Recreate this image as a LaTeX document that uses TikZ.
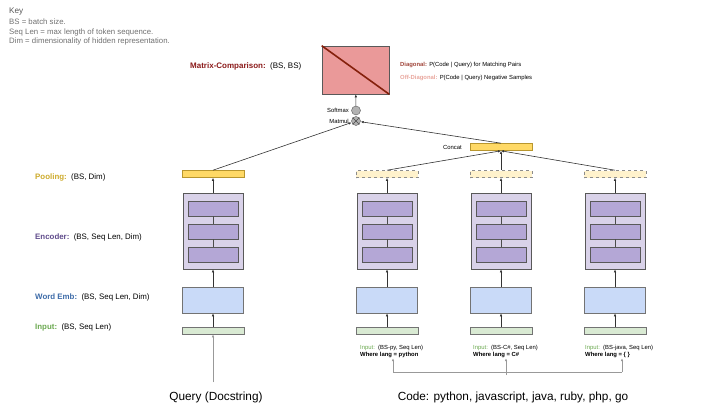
\documentclass[tikz,border=0pt]{standalone}
\usepackage{fontspec}
\setmainfont{Liberation Sans}
\usetikzlibrary{positioning,arrows.meta}

\definecolor{poolfill}{HTML}{FFD966}
\definecolor{poolline}{HTML}{B8962E}
\definecolor{dashfill}{HTML}{FFF2CC}
\definecolor{encfill}{HTML}{D9D2E9}
\definecolor{layfill}{HTML}{B4A7D6}
\definecolor{embfill}{HTML}{C9DAF8}
\definecolor{infill}{HTML}{D9EAD3}
\definecolor{matfill}{HTML}{EA9999}
\definecolor{matline}{HTML}{85200C}
\definecolor{keygray}{HTML}{707070}
\definecolor{txtpool}{HTML}{CDAA2A}
\definecolor{txtenc}{HTML}{5F4B8B}
\definecolor{txtemb}{HTML}{3D6BA8}
\definecolor{txtin}{HTML}{6AA84F}
\definecolor{txtmat}{HTML}{8B1A1A}
\definecolor{txtdiag}{HTML}{A0453A}
\definecolor{txtoff}{HTML}{E8A59C}

\tikzset{
  box/.style={draw=black!65, inner sep=0pt, line width=0.6pt},
  poolbar/.style={box, draw=poolline, fill=poolfill, minimum width=62pt, minimum height=7pt},
  dashpool/.style={box, draw=black!45, dashed, fill=dashfill, minimum width=62pt, minimum height=7pt},
  encbox/.style={box, fill=encfill, minimum width=60pt, minimum height=76pt},
  laybox/.style={box, fill=layfill, minimum width=50pt, minimum height=15pt},
  embbox/.style={box, draw=black!55, fill=embfill, minimum width=61pt, minimum height=26pt},
  inbar/.style={box, draw=black!55, fill=infill, minimum width=62pt, minimum height=7pt},
  opnode/.style={circle, draw=black!65, fill=black!30, minimum size=9pt, inner sep=0pt},
  flow/.style={-{Latex[length=3pt,width=2.5pt]}, black!80, line width=0.6pt},
  feed/.style={-{Latex[length=3pt,width=2.5pt]}, black!40, line width=0.6pt},
  link/.style={black!70, line width=0.6pt},
  lbl/.style={anchor=west, inner sep=0pt, font=\fontsize{7.9}{9}\selectfont},
  keytxt/.style={anchor=west, inner sep=0pt, text=keygray, font=\fontsize{7.8}{9}\selectfont},
  tiny/.style={inner sep=0pt, font=\fontsize{5.9}{7.2}\selectfont},
  big/.style={inner sep=0pt, font=\fontsize{11.8}{13}\selectfont}
}

\begin{document}
\begin{tikzpicture}[x=1pt,y=-1pt]
\useasboundingbox (0,0) rectangle (720,405);

% key
\node[keytxt, text=black!65, font=\fontsize{8.2}{9}\selectfont] (key) at (9,12) {Key};
\node[keytxt] (key1) at (9,22) {BS = batch size.};
\node[keytxt] (key2) at (9,32) {Seq Len = max length of token sequence.};
\node[keytxt] (key3) at (9,41) {Dim = dimensionality of hidden representation.};

% row labels
\node[lbl] (lpool) at (35,177) {\textcolor{txtpool}{\textbf{Pooling:}}\ \ (BS, Dim)};
\node[lbl] (lenc) at (35,237) {\textcolor{txtenc}{\textbf{Encoder:}}\ \ (BS, Seq Len, Dim)};
\node[lbl] (lemb) at (35,297) {\textcolor{txtemb}{\textbf{Word Emb:}}\ \ (BS, Seq Len, Dim)};
\node[lbl] (lin) at (35,327) {\textcolor{txtin}{\textbf{Input:}}\ \ (BS, Seq Len)};

% comparison matrix
\node[box, fill=matfill, minimum width=67pt, minimum height=48pt] (cmp) at (355.5,70) {};
\draw[matline, line width=1.6pt] (cmp.north west) -- (cmp.south east);
\node[lbl, font=\fontsize{8}{10}\selectfont] (lcmp) at (190,66)
    {\textcolor{txtmat}{\textbf{Matrix-Comparison:}}\ \ (BS, BS)};
\node[tiny, anchor=west] (ldiag) at (400,65)
    {\textcolor{txtdiag}{\textbf{Diagonal:}} P(Code | Query) for Matching Pairs};
\node[tiny, anchor=west] (loff) at (400,78)
    {\textcolor{txtoff}{\textbf{Off-Diagonal:}} P(Code | Query) Negative Samples};

% softmax and matmul
\node[opnode] (softmax) at (356,110.5) {};
\node[opnode] (matmul) at (356,121) {};
\draw[link] (matmul.north west) -- (matmul.south east);
\draw[link] (matmul.north east) -- (matmul.south west);
\node[tiny, anchor=east] (lsoft) at (349,110) {Softmax};
\node[tiny, anchor=east] (lmat) at (349,121) {Matmul};
\draw[flow] (softmax) -- (cmp);

% query side
\node[poolbar] (qpool) at (213,174) {};
\node[encbox] (qenc) at (213,231) {};
\node[laybox] (qlay1) at (213,208.5) {};
\node[laybox] (qlay2) at (213,231.5) {};
\node[laybox] (qlay3) at (213,254.5) {};
\node[embbox] (qemb) at (213,300) {};
\node[inbar] (qin) at (213,330.5) {};
\node[big] (query) at (216,397) {Query (Docstring)};
\draw[link] (qlay1) -- (qlay2);
\draw[link] (qlay2) -- (qlay3);
\draw[flow] (qin) -- (qemb);
\draw[flow] (qemb) -- (qenc);
\draw[flow] (qenc) -- (qpool);
\draw[feed, shorten <=9pt] (query.north -| qin) -- (qin.south);

% code side
\foreach \x/\n in {387/py,501/cs,615/java}{
  \node[dashpool] (pool\n) at (\x,174) {};
  \node[encbox] (enc\n) at (\x,231) {};
  \node[laybox] (lay1\n) at (\x,208.5) {};
  \node[laybox] (lay2\n) at (\x,231.5) {};
  \node[laybox] (lay3\n) at (\x,254.5) {};
  \node[embbox] (emb\n) at (\x,300) {};
  \node[inbar] (in\n) at (\x,330.5) {};
  \draw[link] (lay1\n) -- (lay2\n);
  \draw[link] (lay2\n) -- (lay3\n);
  \draw[flow] (in\n) -- (emb\n);
  \draw[flow] (emb\n) -- (enc\n);
  \draw[flow] (enc\n) -- (pool\n);
}
\node[poolbar] (concat) at (501,147) {};
\node[tiny, anchor=east] (lconcat) at (462,147) {Concat};
\draw[flow] (poolpy.north) -- (concat.south);
\draw[flow] (poolcs.north) -- (concat.south);
\draw[flow] (pooljava.north) -- (concat.south);

\draw[flow] (qpool.north) -- (matmul);
\draw[flow] (concat.north) -- (matmul);

% code inputs
\node[tiny, anchor=north west, align=left] (labpy) at (360,345)
    {\textcolor{txtin}{Input:}\ \ (BS-py, Seq Len)\\\textbf{Where lang = python}};
\node[tiny, anchor=north west, align=left] (labcs) at (473,345)
    {\textcolor{txtin}{Input:}\ \ (BS-C\#, Seq Len)\\\textbf{Where lang = C\#}};
\node[tiny, anchor=north west, align=left] (labjava) at (585,345)
    {\textcolor{txtin}{Input:}\ \ (BS-java, Seq Len)\\\textbf{Where lang = \{ \}}};
\node[big] (code) at (513,397) {Code: python, javascript, java, ruby, php, go};

\coordinate (forkL) at (393,372);
\coordinate (forkR) at (622,372);
\coordinate (fork) at (506,375);
\draw[black!40, line width=0.6pt] (forkL) -- (forkR);
\draw[feed] (forkL) -- (forkL |- labpy.south);
\draw[feed] (fork) -- (fork |- labcs.south);
\draw[feed] (forkR) -- (forkR |- labjava.south);
\end{tikzpicture}
\end{document}
